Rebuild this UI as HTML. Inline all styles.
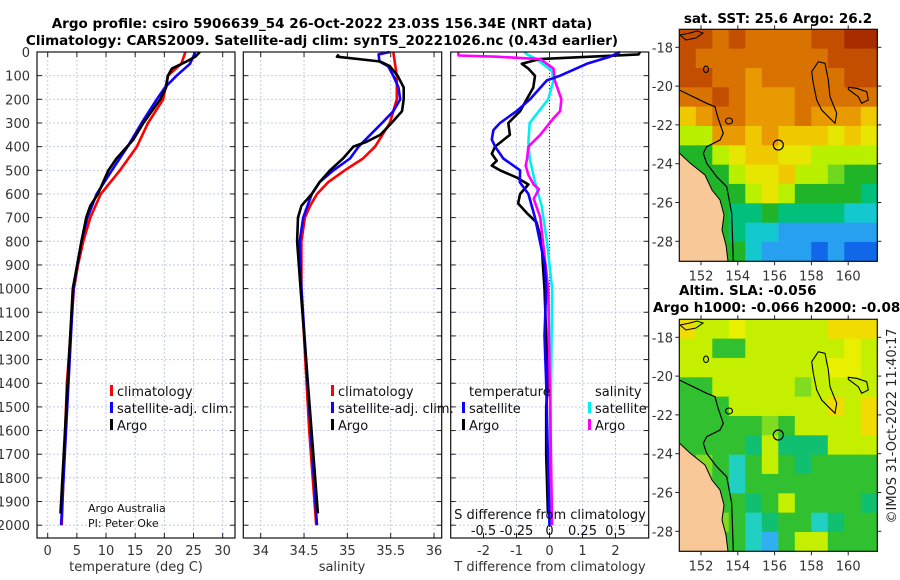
<!DOCTYPE html>
<html><head><meta charset="utf-8"><style>
body{margin:0;background:#fff}
svg{display:block;font-family:"DejaVu Sans","Liberation Sans",sans-serif}
</style></head><body>
<svg id="fig" width="900" height="580" viewBox="0 0 900 580">
<g id="root"></g>
</svg>
<script>
// ---------- data ----------
const tempClimDepth=[0,50,100,200,300,400,500,600,700,800,900,1000,1400,2000];
const tempClim=[23.6,22.9,20.6,19.8,17.2,15.3,12.4,9.1,7.3,6.1,5.2,4.5,3.3,2.4];
const tempSatDepth=[0,50,100,150,200,300,400,500,600,700,800,900,1000,2000];
const tempSat=[25.3,24.4,22.1,20.1,18.7,16.1,13.7,11.0,8.4,6.8,5.8,5.1,4.4,2.3];
const tempArgoDepth=[0,20,40,70,100,150,200,300,370,450,500,600,650,700,800,1000,1950];
const tempArgo=[26.1,25.3,23.8,21.3,20.6,20.3,19.3,16.4,14.7,11.8,10.4,8.6,7.3,6.6,5.8,4.3,2.2];

const salClimDepth=[0,50,100,200,300,400,450,500,550,600,650,700,800,1000,1400,1600,2000];
const salClim=[35.53,35.55,35.57,35.57,35.49,35.32,35.18,34.97,34.78,34.65,34.57,34.51,34.47,34.47,34.53,34.56,34.64];
const salSatDepth=[0,10,40,60,100,150,200,250,300,400,450,500,550,600,700,800,1000,2000];
const salSat=[35.49,35.36,35.37,35.47,35.53,35.59,35.61,35.53,35.40,35.13,35.03,34.84,34.68,34.59,34.49,34.45,34.47,34.65];
const salArgoDepth=[10,20,40,60,100,150,200,250,300,350,380,400,450,500,550,600,650,700,800,1000,1950];
const salArgo=[34.90,34.88,35.38,35.49,35.58,35.65,35.65,35.63,35.51,35.38,35.22,35.07,34.95,34.80,34.68,34.59,34.47,34.43,34.42,34.46,34.66];

const dTSatDepth=[0,20,50,100,120,200,250,300,330,370,400,450,500,550,600,700,800,900,1000,1200,1400,2000];
const dTSat=[2.14,1.83,1.13,0.32,-0.08,-0.59,-1.0,-1.5,-1.7,-1.75,-1.65,-1.4,-0.89,-0.9,-0.64,-0.44,-0.29,-0.14,-0.1,-0.15,-0.1,0];
const dTArgoDepth=[0,10,30,50,70,100,150,200,250,300,350,400,430,460,480,500,530,560,600,640,680,720,800,900,1000,1400,1500,1700,1950];
const dTArgo=[2.74,2.7,-0.3,-0.84,-0.64,-0.44,-0.49,-0.69,-0.89,-1.25,-1.2,-1.65,-1.75,-1.6,-1.75,-1.5,-1.0,-0.64,-0.89,-0.95,-0.69,-0.39,-0.24,-0.2,-0.15,-0.05,-0.1,-0.1,-0.05];
const dSSatDepth=[0,10,30,80,120,200,300,380,450,550,650,800,1000,2000];
const dSSat=[-0.19,-0.17,-0.1,0.02,0.03,-0.01,-0.15,-0.16,-0.15,-0.11,-0.06,-0.02,0.02,0];
const dSArgoDepth=[0,15,20,30,70,120,200,250,280,350,400,450,480,520,560,580,620,700,800,1000,2000];
const dSArgo=[-0.69,-0.69,-0.4,-0.07,0.03,0.04,0.09,0.08,0.03,-0.07,-0.16,-0.17,-0.18,-0.16,-0.12,-0.08,-0.12,-0.07,-0.05,-0.01,0.02];

const depthTicks=[0,100,200,300,400,500,600,700,800,900,1000,1100,1200,1300,1400,1500,1600,1700,1800,1900,2000];
const tempTicks=[0,5,10,15,20,25,30];
const salTicks=[34,34.5,35,35.5,36];
const dTTicks=[-2,-1,0,1,2];
const dSTicks=[-0.5,-0.25,0,0.25,0.5];
const dSTickLabels=["-0.5","-0.25","0","0.25","0.5"];
const lonTicks=[152,154,156,158,160];
const latTicks=[-18,-20,-22,-24,-26,-28];

const sstGrid=[
"BBOBOOOOBBRR","BOOOOOOOOBBB","BBOOoOOOOOBB","OOBOoooOOOOO",
"YoOOoooOoooY","LLooYoYYYyYy","GGLyYYyyLLLL","GGGLyyYLLgGG",
"GGGGLyLGGGGT","GGGTTGTTTTCC","GGGTCCAAAAAA","GGGGCAAADADD"];
const slaGrid=[
"YLLyLLLLLYYY","LLGGLLLLLLyL","LLLLLLLLLyyL","GGLLLLLgLLLL",
"GGGLLLLLLYLY","GGGGGgGLLLLY","GGGGTLTTTLLL","GgGCGLGTGGGG",
"GgGCGGGGGGGG","GGGGTGLGGGGT","GGgGCTGGCTGG","GGGGCAGLLGGG"];

// ---------- helpers ----------
const NS="http://www.w3.org/2000/svg";
const root=document.getElementById('root');
function mk(tag,attrs,parent){const e=document.createElementNS(NS,tag);for(const k in attrs)e.setAttribute(k,attrs[k]);(parent||root).appendChild(e);return e;}
function txt(s,x,y,attrs,parent){const e=mk('text',Object.assign({x:x,y:y,'font-size':13,fill:'#333'},attrs||{}),parent);e.textContent=s;return e;}

const yTop=52, yBot=538;
const yScale=d=>52+d*0.2366;
const xTemp=t=>47.7+t*5.833;
const xSal=s=>260.7+(s-34)*86.67;
const xDT=v=>549.5+v*33;
const xDS=v=>549.5+v*132;
const panels=[{x0:37,x1:235,name:'temperature-panel'},{x0:243.3,x1:441.7,name:'salinity-panel'},{x0:450.7,x1:648.7,name:'difference-panel'}];

function drawPanel(p,vt,xf){
  const g=mk('g',{});
  
  
  depthTicks.forEach(d=>{
    mk('line',{x1:p.x0,x2:p.x1,y1:yScale(d),y2:yScale(d),stroke:'#c4c8e4','stroke-width':1,'stroke-dasharray':'2,2'},g);
    mk('line',{x1:p.x0,x2:p.x0+5,y1:yScale(d),y2:yScale(d),stroke:'#222'},g);
    mk('line',{x1:p.x1-5,x2:p.x1,y1:yScale(d),y2:yScale(d),stroke:'#222'},g);
  });
  vt.forEach(v=>{
    const x=xf(v);
    mk('line',{x1:x,x2:x,y1:yTop,y2:yBot,stroke:'#c4c8e4','stroke-width':1,'stroke-dasharray':'2,2'},g);
    mk('line',{x1:x,x2:x,y1:yBot-5,y2:yBot,stroke:'#222'},g);
    mk('line',{x1:x,x2:x,y1:yTop,y2:yTop+5,stroke:'#222'},g);
  });
  return g;
}
function line(xs,ds,xf,color,name,w){
  const pts=xs.map((v,i)=>xf(v).toFixed(1)+','+yScale(ds[i]).toFixed(1)).join(' ');
  const e=mk('polyline',{points:pts,fill:'none',stroke:color,'stroke-width':w||2.6,'stroke-linejoin':'round'});
  
  
  return e;
}
function box(p){mk('rect',{x:p.x0,y:yTop,width:p.x1-p.x0,height:yBot-yTop,fill:'none',stroke:'#111','stroke-width':1.2});}

// panel 1
drawPanel(panels[0],tempTicks,xTemp);
line(tempClim,tempClimDepth,xTemp,'#f00','temp-climatology-line');
line(tempSat,tempSatDepth,xTemp,'#10f','temp-satellite-line');
line(tempArgo,tempArgoDepth,xTemp,'#000','temp-argo-line');
box(panels[0]);
// panel 2
drawPanel(panels[1],salTicks,xSal);
line(salClim,salClimDepth,xSal,'#f00','sal-climatology-line');
line(salSat,salSatDepth,xSal,'#10f','sal-satellite-line');
line(salArgo,salArgoDepth,xSal,'#000','sal-argo-line');
box(panels[1]);
// panel 3
drawPanel(panels[2],dTTicks,xDT);
mk('line',{x1:xDT(0),x2:xDT(0),y1:yTop,y2:yBot,stroke:'#333','stroke-dasharray':'1,2'});
line(dSSat,dSSatDepth,xDS,'#00f0f0','sal-diff-satellite-line');
line(dTArgo,dTArgoDepth,xDT,'#000','temp-diff-argo-line');
line(dSArgo,dSArgoDepth,xDS,'#f0f','sal-diff-argo-line');
line(dTSat,dTSatDepth,xDT,'#10f','temp-diff-satellite-line');
box(panels[2]);

// y tick labels
depthTicks.forEach(d=>{const t=txt(String(d),30,yScale(d)+5,{'text-anchor':'end'});
  
  });
// x tick labels
tempTicks.forEach(v=>{const t=txt(String(v),xTemp(v),555,{'text-anchor':'middle'});
  
  });
salTicks.forEach(v=>{const t=txt(String(v),xSal(v),555,{'text-anchor':'middle'});
  
  });
dTTicks.forEach(v=>{const t=txt(String(v),xDT(v),555,{'text-anchor':'middle'});
  
  });
dSTicks.forEach((v,i)=>{const t=txt(dSTickLabels[i],xDS(v),535,{'text-anchor':'middle',fill:'#111'});
  
  });

// maps
const cols={R:'#a82c00',B:'#c44e00',O:'#d87200',o:'#e89a00',Y:'#f0c800',y:'#e6e600',L:'#b8f000',l:'#a0e800',g:'#70d820',G:'#20b428',T:'#00c07c',C:'#14c8d0',A:'#28a0f0',D:'#1068e8'};
const slaCols={Y:'#f0dc00',y:'#e8f000',L:'#c4f000',g:'#80dc20',G:'#30c030',T:'#10c070',C:'#20d0c0',A:'#30b0f0'};
const mapX0=679.3,mapX1=877.3;
const lonScale=l=>701+(l-152)*18.4;
const latScale=(la,top)=>top+ (47.3-29.3) + (-18-la)*19.4;
function drawMap(grid,palette,top,name){
  const h=232, w=mapX1-mapX0;
  const g=mk('g',{});
  
  
  const cw=w/12, ch=h/12;
  grid.forEach((row,r)=>{for(let c=0;c<12;c++){
    mk('rect',{x:mapX0+c*cw,y:top+r*ch,width:cw+0.6,height:ch+0.6,fill:palette[row[c]]},g);
  }});
  const o=top-29.3;
  // land
  mk('path',{d:`M679.3,${153+o} L690,${163+o} L705,${175+o} L712,${190+o} L720,${200+o} L724,${215+o} L722,${230+o} L726,${245+o} L728,${261.3+o} L679.3,${261.3+o} Z`,fill:'#f8c898'},g);
  // shelf contour
  mk('polyline',{points:`679.3,${90+o} 706.7,${103.3+o} 715,${106.7+o} 718,${118+o} 723.3,${133.3+o} 720,${140+o} 706.7,${146.7+o} 703.3,${153.3+o} 706.7,${163.3+o} 716.7,${176.7+o} 726.7,${186.7+o} 731.7,${213.3+o} 733.3,${261.3+o}`,fill:'none',stroke:'#000','stroke-width':1.2},g);
  mk('polyline',{points:`679.3,${153+o} 690,${163+o} 705,${175+o} 712,${190+o} 720,${200+o} 724,${215+o} 722,${230+o} 726,${245+o} 728,${261.3+o}`,fill:'none',stroke:'#000','stroke-width':1},g);
  // islands/reefs
  mk('path',{d:`M811.7,${71.7+o} L818.3,${61.7+o} L825,${63.3+o} L828.3,${80+o} L830,${96.7+o} L836.7,${113.3+o} L835,${123.3+o} L828.3,${116.7+o} L821.7,${110+o} L816.7,${100+o} L813.3,${83.3+o} Z`,fill:'none',stroke:'#000','stroke-width':1.1},g);
  mk('path',{d:`M848.3,${87.3+o} L856.7,${88.3+o} L866.7,${91.7+o} L868.3,${100+o} L861.7,${103.3+o} L858.3,${96.7+o} L848.3,${89.3+o} Z`,fill:'none',stroke:'#000','stroke-width':1.1},g);
  mk('path',{d:`M680,${35+o} L690,${33+o} L697,${31+o} L703,${33+o} L696,${38+o} L686,${40+o} Z`,fill:'none',stroke:'#000','stroke-width':1},g);
  mk('ellipse',{cx:706,cy:69.3+o,rx:2.5,ry:3.2,fill:'none',stroke:'#000','stroke-width':1.1},g);
  mk('ellipse',{cx:729,cy:121+o,rx:3.5,ry:3,fill:'none',stroke:'#000','stroke-width':1.1},g);
  mk('circle',{cx:778.3,cy:145+o,r:5,fill:'none',stroke:'#000','stroke-width':1.2},g);
  mk('rect',{x:mapX0,y:top,width:w,height:h,fill:'none',stroke:'#111','stroke-width':1.2},g);
  latTicks.forEach(la=>{const y=latScale(la,top);
    mk('line',{x1:mapX0-4,x2:mapX0,y1:y,y2:y,stroke:'#222'},g);
    mk('line',{x1:mapX1,x2:mapX1+4,y1:y,y2:y,stroke:'#222'},g);
    const t=txt(String(la),673,y+5,{'text-anchor':'end'},g);
    
    });
  lonTicks.forEach(lo=>{const x=lonScale(lo);
    mk('line',{x1:x,x2:x,y1:top-4,y2:top,stroke:'#222'},g);
    mk('line',{x1:x,x2:x,y1:top+h,y2:top+h+4,stroke:'#222'},g);
    const t=txt(String(lo),x,top+h+19,{'text-anchor':'middle'},g);
    
    });
}
drawMap(sstGrid,cols,29.3,'sst-map');
drawMap(slaGrid,slaCols,319.3,'sla-map');

// legends
function leg(x,y,color,label,name){
  mk('rect',{x:x,y:y-11,width:3,height:11,fill:color});
  const t=txt(label,x+7,y,{fill:'#111'});
  
  
}
leg(110,396,'#f00','climatology','legend-climatology');
leg(110,413,'#10f','satellite-adj. clim.','legend-satellite');
leg(110,430,'#000','Argo','legend-argo');
leg(331,396,'#f00','climatology','legend-climatology-2');
leg(331,413,'#10f','satellite-adj. clim.','legend-satellite-2');
leg(331,430,'#000','Argo','legend-argo-2');
txt('temperature',469,396,{fill:'#111'});
leg(462,413,'#10f','satellite','legend-tdiff-satellite');
leg(462,430,'#000','Argo','legend-tdiff-argo');
txt('salinity',595,396,{fill:'#111'});
leg(588,413,'#00f0f0','satellite','legend-sdiff-satellite');
leg(588,430,'#f0f','Argo','legend-sdiff-argo');
</script>
<!-- static text -->
<svg width="900" height="580" style="position:absolute;left:0;top:0;font-family:'DejaVu Sans','Liberation Sans',sans-serif">
<text x="322" y="28" font-size="13.5" font-weight="bold" text-anchor="middle" fill="#000">Argo profile: csiro 5906639_54 26-Oct-2022 23.03S 156.34E (NRT data)</text>
<text x="322" y="45" font-size="13.5" font-weight="bold" text-anchor="middle" fill="#000">Climatology: CARS2009. Satellite-adj clim: synTS_20221026.nc (0.43d earlier)</text>
<text x="778" y="23" font-size="13.5" font-weight="bold" text-anchor="middle" fill="#000">sat. SST: 25.6 Argo: 26.2</text>
<text x="679" y="295" font-size="13.5" font-weight="bold" fill="#000">Altim. SLA: -0.056</text>
<text x="653" y="312" font-size="13.5" font-weight="bold" fill="#000">Argo h1000: -0.066 h2000: -0.083</text>
<text x="136" y="571" font-size="13" text-anchor="middle" fill="#333">temperature (deg C)</text>
<text x="342" y="571" font-size="13" text-anchor="middle" fill="#333">salinity</text>
<text x="550" y="571" font-size="13" text-anchor="middle" fill="#333">T difference from climatology</text>
<text x="550" y="519" font-size="13" text-anchor="middle" fill="#111">S difference from climatology</text>
<text x="88" y="512" font-size="11" fill="#111">Argo Australia</text>
<text x="88" y="527" font-size="11" fill="#111">PI: Peter Oke</text>
<text x="0" y="0" font-size="13" text-anchor="middle" fill="#222" transform="translate(896,426) rotate(-90)">©IMOS 31-Oct-2022 11:40:17</text>
</svg>
<style>body{position:relative;width:900px;height:580px;overflow:hidden}</style>
</body></html>
